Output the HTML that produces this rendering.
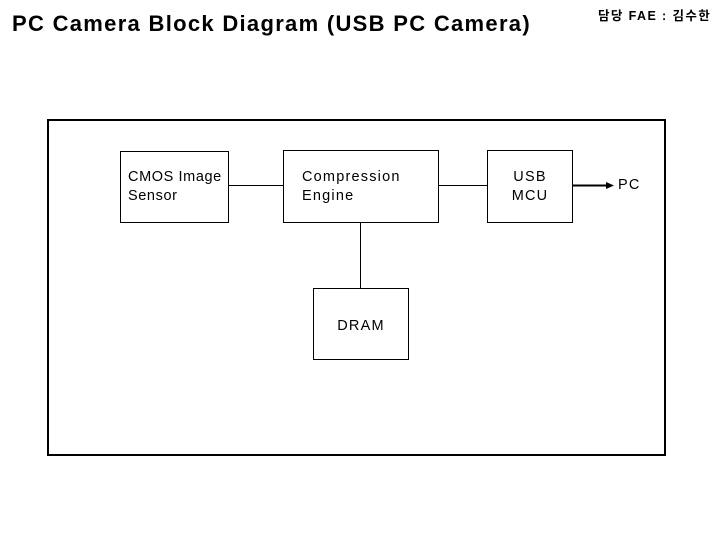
<!DOCTYPE html>
<html><head><meta charset="utf-8"><style>
body{margin:0;width:720px;height:540px;background:#fff;position:relative;overflow:hidden;font-family:"Liberation Sans",Arial,sans-serif;color:#000}
.a{position:absolute}
.box{position:absolute;border:1px solid #000;box-sizing:border-box;font-size:14.5px;line-height:19px;letter-spacing:1.2px}
</style></head><body>
<div class="a" style="left:12px;top:11px;font-size:22px;font-weight:bold;letter-spacing:1.3px;white-space:nowrap">PC Camera Block Diagram (USB PC Camera)</div>
<div class="a" style="left:598px;top:5px;font-size:12.5px;font-weight:bold;letter-spacing:1.4px;white-space:nowrap;font-family:'Liberation Sans','Noto Sans CJK KR',sans-serif">담당 FAE : 김수한</div>
<div class="a" style="left:47px;top:119px;width:619px;height:337px;border:2px solid #000;box-sizing:border-box"></div>
<div class="box" style="left:120px;top:151px;width:109px;height:72px;padding:16px 0 0 7px;letter-spacing:0.6px;white-space:nowrap">CMOS Image<br>Sensor</div>
<div class="box" style="left:283px;top:150px;width:156px;height:73px;padding:17px 0 0 18px">Compression<br>Engine</div>
<div class="box" style="left:487px;top:150px;width:86px;height:73px;padding:17px 0 0 0;text-align:center">USB<br>MCU</div>
<div class="box" style="left:313px;top:288px;width:96px;height:72px;padding:28px 0 0 0;text-align:center">DRAM</div>
<svg class="a" style="left:0;top:0" width="720" height="540">
<g stroke="#000" stroke-width="1">
<line x1="229" y1="185.5" x2="283" y2="185.5"/>
<line x1="439" y1="185.5" x2="487" y2="185.5"/>
<line x1="360.5" y1="223" x2="360.5" y2="288"/>
<line x1="573" y1="185.5" x2="608" y2="185.5" stroke-width="2"/>
</g>
<polygon points="614,185.5 606,182 606,189" fill="#000"/>
</svg>
<div class="a" style="left:618px;top:177px;font-size:14.5px;letter-spacing:1.2px">PC</div>
</body></html>
